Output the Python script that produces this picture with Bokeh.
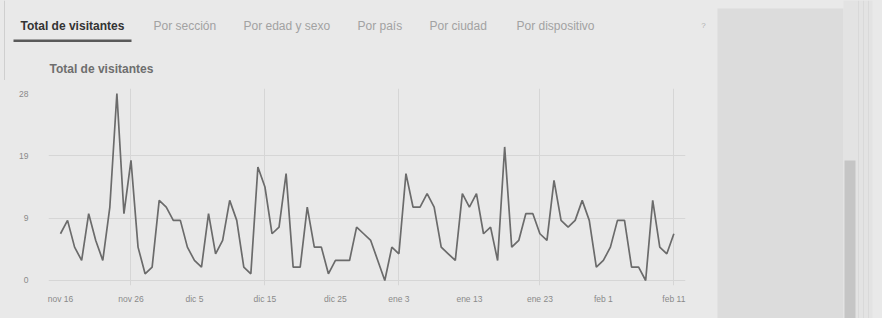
from bokeh.plotting import figure
from bokeh.layouts import row, column
from bokeh.models import FixedTicker, ColumnDataSource, Range1d
from bokeh.core.properties import value
from bokeh.embed import file_html
from bokeh.resources import INLINE

# ---- data ----
days = list(range(88))  # day index counted from nov 16
visitors = [7, 9, 5, 3, 10, 6, 3, 11, 28, 10, 18, 5, 1, 2, 12, 11, 9, 9, 5, 3,
            2, 10, 4, 6, 12, 9, 2, 1, 17, 14, 7, 8, 16, 2, 2, 11, 5, 5, 1, 3,
            3, 3, 8, 7, 6, 3, 0, 5, 4, 16, 11, 11, 13, 11, 5, 4, 3, 13, 11, 13,
            7, 8, 3, 20, 5, 6, 10, 10, 7, 6, 15, 9, 8, 9, 12, 9, 2, 3, 5, 9,
            9, 2, 2, 0, 12, 5, 4, 7]
x_tick_days = [0, 10, 19, 29, 39, 48, 58, 68, 77, 87]
x_tick_labels = ["nov 16", "nov 26", "dic 5", "dic 15", "dic 25",
                 "ene 3", "ene 13", "ene 23", "feb 1", "feb 11"]
x_grid_days = [10, 29, 48, 68, 87]
y_tick_values = [0, 9.3333, 18.6667, 28]
y_tick_labels = ["0", "9", "19", "28"]
tabs = ["Total de visitantes", "Por sección", "Por edad y sexo", "Por país",
        "Por ciudad", "Por dispositivo"]
chart_title = "Total de visitantes"

BG = "#e9e9e9"
FONT = value("Liberation Sans")


def blank_fig(w, h, x0, y0):
    f = figure(width=w, height=h, output_backend="svg", toolbar_location=None,
               x_range=Range1d(x0, x0 + w), y_range=Range1d(y0 + h, y0),
               min_border=0, frame_align=False)
    f.axis.visible = False
    f.grid.visible = False
    f.outline_line_color = None
    f.background_fill_color = BG
    f.border_fill_color = BG
    return f


# ---- header with tabs and chart title (page px coordinates) ----
top = blank_fig(716, 80, 0, 0)
top.segment(x0=[4], y0=[0], x1=[4], y1=[80], line_color="#cfcfcf", line_width=1)
tab_x = [20, 153, 243, 357, 429, 516]
top.text(x=tab_x[:1], y=[25], text=tabs[:1], text_font=FONT, text_font_size="12px",
         text_font_style="bold", text_color="#333333", text_baseline="middle")
top.text(x=tab_x[1:], y=[25] * 5, text=tabs[1:], text_font=FONT, text_font_size="12px",
         text_color="#a2a2a2", text_baseline="middle")
top.quad(left=[13], right=[131], top=[39], bottom=[41.5], fill_color="#5a5a5a",
         line_color=None)
top.text(x=[703], y=[25], text=["?"], text_font=FONT, text_font_size="8px",
         text_color="#b0b0b0", text_baseline="middle", text_align="center")
top.text(x=[49], y=[68], text=[chart_title], text_font=FONT, text_font_size="12px",
         text_font_style="bold", text_color="#6e6e6e", text_baseline="middle")

# ---- line chart ----
p = figure(width=716, height=238, output_backend="svg", toolbar_location=None,
           frame_width=637, frame_height=197,
           min_border_left=48, min_border_right=31,
           min_border_top=8, min_border_bottom=33, frame_align=False,
           x_range=Range1d(-1.7, 88.65), y_range=Range1d(-0.75, 28.75))
p.background_fill_color = BG
p.border_fill_color = BG
p.outline_line_color = None

src = ColumnDataSource(dict(d=days, v=visitors))
p.line("d", "v", source=src, line_color="#6b6b6b", line_width=1.7)

for ax in (p.xaxis[0], p.yaxis[0]):
    ax.axis_line_color = None
    ax.major_tick_line_color = None
    ax.minor_tick_line_color = None
    ax.major_tick_out = 0
    ax.major_tick_in = 0
    ax.major_label_text_color = "#8a8a8a"
    ax.major_label_text_font = "Liberation Sans"
    ax.major_label_text_font_size = "8.5px"
p.xaxis.ticker = FixedTicker(ticks=x_tick_days)
p.xaxis.major_label_overrides = {d: l for d, l in zip(x_tick_days, x_tick_labels)}
p.xaxis.major_label_standoff = 8
p.yaxis.ticker = FixedTicker(ticks=y_tick_values)
p.yaxis.major_label_overrides = {v: l for v, l in zip(y_tick_values, y_tick_labels)}
p.yaxis.major_label_standoff = 20

p.xgrid.ticker = FixedTicker(ticks=x_grid_days)
p.ygrid.ticker = FixedTicker(ticks=y_tick_values[:3])
p.xgrid.grid_line_color = "#d6d6d6"
p.ygrid.grid_line_color = "#d6d6d6"

# ---- right side panel with scrollbar ----
side = blank_fig(166, 318, 716, 0)
side.quad(left=[717], right=[843], top=[8], bottom=[318], fill_color="#dcdcdc",
          line_color=None)
side.quad(left=[843], right=[872], top=[0], bottom=[318], fill_color="#e3e3e3",
          line_color=None)
side.quad(left=[844], right=[855], top=[160], bottom=[318], fill_color="#c5c5c5",
          line_color=None)
side.segment(x0=[858, 863, 868], y0=[0, 0, 0], x1=[858, 863, 868], y1=[318, 318, 318],
             line_color="#d9d9d9", line_width=1)

layout = row(column(top, p), side)

html = file_html(layout, INLINE)
html = html.replace("<head>", "<head><style>html,body{background:%s;}</style>" % BG, 1)
open("out.html", "w").write(html)
